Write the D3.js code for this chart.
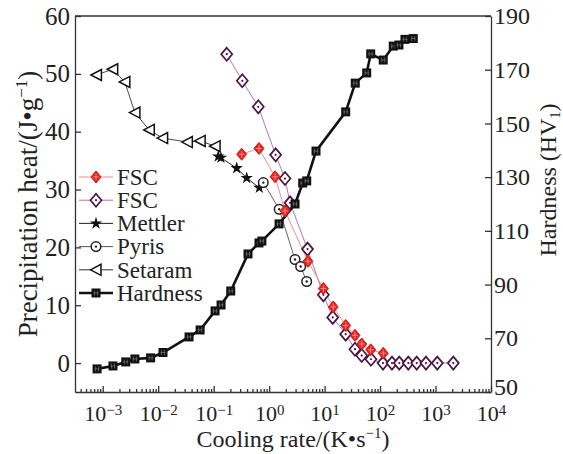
<!DOCTYPE html>
<html>
<head>
<meta charset="utf-8">
<script src="https://cdn.jsdelivr.net/npm/d3@7"></script>
<style>
  body { margin: 0; background: #fff; }
  text { font-family: "Liberation Serif", "Times New Roman", serif; fill: #222; }
</style>
</head>
<body>
<div id="chart"></div>
<script>
// data (cooling rate in K/s)
const fscRedX = [0.32, 0.656, 1.28, 1.93, 5.0, 9.5, 14.3, 24, 35.3, 46.7, 67.8, 114];
const fscRedY = [36.1, 37.1, 32.2, 26.3, 17.6, 12.9, 9.7, 6.5, 4.8, 3.3, 2.3, 1.7];

const fscPurpleX = [0.172, 0.328, 0.637, 1.31, 1.93, 2.38, 4.92, 9.5, 14, 24, 35.3, 46.7, 68.6, 113, 164, 222, 323, 457, 673, 1075, 2090];
const fscPurpleY = [53.4, 48.8, 44.3, 36.0, 31.9, 27.7, 19.7, 11.8, 7.9, 5.0, 2.4, 1.3, 0.66, 0, 0, 0, 0, 0, 0, 0, 0];

const mettlerX = [0.121, 0.135, 0.26, 0.394, 0.665];
const mettlerY = [35.7, 35.5, 33.7, 32.0, 30.3];

const pyrisX = [0.785, 1.52, 2.93, 3.7, 4.75];
const pyrisY = [31.2, 26.6, 17.9, 16.7, 14.1];

const setaramX = [7.7e-4, 1.51e-3, 2.5e-3, 3.8e-3, 6.9e-3, 0.012, 0.0335, 0.057, 0.106];
const setaramY = [49.8, 50.8, 48.6, 43.3, 40.3, 38.9, 38.2, 38.4, 37.5];

const hardnessX = [7.9e-4, 1.53e-3, 2.6e-3, 3.8e-3, 7.3e-3, 0.0122, 0.036, 0.057, 0.106, 0.136, 0.203, 0.416, 0.656, 0.74, 1.51, 2.93, 4.03, 4.76, 7.0, 24, 35.7, 57.4, 67.8, 114, 173, 219, 281, 397];
const hardnessY = [58.6, 59.7, 61.2, 62.3, 62.7, 64.7, 70.5, 73.1, 80.2, 82.4, 87.6, 101.4, 105.5, 106.2, 112.6, 120, 127.8, 128.6, 139.7, 154.3, 165, 168.8, 175.9, 173.6, 178.8, 179.2, 181.3, 181.6];

const xExponents = [-3, -2, -1, 0, 1, 2, 3, 4];
const leftTicks = [0, 10, 20, 30, 40, 50, 60];
const rightTicks = [50, 70, 90, 110, 130, 150, 170, 190];
const legendNames = ["FSC", "FSC", "Mettler", "Pyris", "Setaram", "Hardness"];

let width = 563;
let height = 454;
let margin = ({ top: 16, right: 72, bottom: 62, left: 75 });

const svg = d3.select("#chart").append("svg")
    .attr("width", width)
    .attr("height", height);

let x = d3.scaleLog()
    .domain([Math.pow(10, -3.5), 1e4])
    .range([margin.left, width - margin.right]);
let yL = d3.scaleLinear()
    .domain([-5, 60])
    .range([height - margin.bottom, margin.top]);
let yR = d3.scaleLinear()
    .domain([50, 190])
    .range([height - margin.bottom, margin.top]);

const axisColor = "#333";

// minor x ticks
let minors = [];
for (let e = -4; e < 4; e++) {
    for (let m = 2; m <= 9; m++) {
        let v = m * Math.pow(10, e);
        if (v >= x.domain()[0] && v <= x.domain()[1]) minors.push(v);
    }
}

const gx = svg.append("g")
    .attr("transform", `translate(0,${height - margin.bottom})`)
    .call(d3.axisBottom(x).tickValues(xExponents.map(e => Math.pow(10, e)))
        .tickSizeInner(-6).tickSizeOuter(0).tickFormat(() => ""));
svg.append("g")
    .attr("transform", `translate(0,${height - margin.bottom})`)
    .call(d3.axisBottom(x).tickValues(minors).tickSizeInner(-3).tickSizeOuter(0).tickFormat(() => ""))
    .call(g => g.select(".domain").remove());

gx.selectAll(".tick").each(function (d, i) {
    const t = d3.select(this).append("text")
        .attr("y", 29)
        .attr("text-anchor", "middle")
        .attr("font-size", 22)
        .attr("fill", "#222");
    t.append("tspan").text("10");
    t.append("tspan").attr("dy", -6).attr("font-size", 15)
        .text(xExponents[i] < 0 ? "\u2212" + (-xExponents[i]) : xExponents[i]);
});

svg.append("g")
    .attr("transform", `translate(${margin.left},0)`)
    .call(d3.axisLeft(yL).tickValues(leftTicks).tickSizeInner(-6).tickSizeOuter(0).tickPadding(5))
    .call(g => g.selectAll(".tick text").attr("font-size", 25).attr("fill", "#222"));

svg.append("g")
    .attr("transform", `translate(${width - margin.right},0)`)
    .call(d3.axisRight(yR).tickValues(rightTicks).tickSizeInner(-6).tickSizeOuter(0).tickPadding(3))
    .call(g => g.selectAll(".tick text").attr("font-size", 24).attr("fill", "#222"))
    .call(g => g.selectAll(".tick text").filter(d => d === 50).attr("dy", "0.1em"));

svg.selectAll(".domain, .tick line").attr("stroke", axisColor).attr("stroke-width", 1.3);

// top frame line
svg.append("line")
    .attr("x1", margin.left).attr("x2", width - margin.right)
    .attr("y1", margin.top).attr("y2", margin.top)
    .attr("stroke", axisColor).attr("stroke-width", 1.3);

// axis titles
const xt = svg.append("text")
    .attr("x", (margin.left + width - margin.right) / 2 + 10)
    .attr("y", 447)
    .attr("text-anchor", "middle")
    .attr("font-size", 24);
xt.append("tspan").text("Cooling rate/(K\u2022s");
xt.append("tspan").attr("dy", -9).attr("font-size", 15).text("\u22121");
xt.append("tspan").attr("dy", 9).text(")");

const yt = svg.append("text")
    .attr("transform", "translate(37,204) rotate(-90)")
    .attr("text-anchor", "middle")
    .attr("font-size", 27);
yt.append("tspan").text("Precipitation heat/(J\u2022g");
yt.append("tspan").attr("dy", -10).attr("font-size", 17).text("\u22121");
yt.append("tspan").attr("dy", 10).text(")");

const rt = svg.append("text")
    .attr("transform", "translate(556,180) rotate(-90)")
    .attr("text-anchor", "middle")
    .attr("font-size", 24);
rt.append("tspan").text("Hardness (HV");
rt.append("tspan").attr("dy", 4).attr("font-size", 14).text("1");
rt.append("tspan").attr("dy", -4).text(")");

// marker shapes
const shapes = {
    red: "M0,-6L5,0L0,6L-5,0Z",
    purple: "M0,-6.5L5.5,0L0,6.5L-5.5,0Z",
    tri: "M-5.5,0L5,-5.5L5,5.5Z",
    square: "M-4.5,-4.5H4.5V4.5H-4.5Z",
    star: d3.symbol(d3.symbolStar, 48)()
};

function drawMarker(g, kind) {
    if (kind === "red") {
        g.append("path").attr("d", shapes.red).attr("fill", "#e5231f").attr("stroke", "#d01a16").attr("stroke-width", 1);
        g.append("path").attr("d", "M-3,0H3M0,-3.5V3.5").attr("stroke", "#f7a0a0").attr("stroke-width", 0.8);
    } else if (kind === "purple") {
        g.append("path").attr("d", shapes.purple).attr("fill", "#fff").attr("stroke", "#4a1542").attr("stroke-width", 1.7);
        g.append("circle").attr("r", 1.1).attr("fill", "#4a1542");
    } else if (kind === "star") {
        g.append("path").attr("d", shapes.star).attr("fill", "#111");
    } else if (kind === "circle") {
        g.append("circle").attr("r", 4.8).attr("fill", "#fff").attr("stroke", "#222").attr("stroke-width", 1.5);
        g.append("circle").attr("r", 1.2).attr("fill", "#222");
    } else if (kind === "tri") {
        g.append("path").attr("d", shapes.tri).attr("fill", "#fff").attr("stroke", "#111").attr("stroke-width", 1.5);
    } else if (kind === "square") {
        g.append("path").attr("d", shapes.square).attr("fill", "#111");
        g.append("path").attr("d", "M-1.5,-2.5V2.5M1.5,-2.5V2.5M-2.5,0H2.5").attr("stroke", "#888").attr("stroke-width", 0.6);
    }
}

const series = [
    { xs: setaramX, ys: setaramY, y: yL, kind: "tri", line: "#333", lw: 0.9 },
    { xs: mettlerX, ys: mettlerY, y: yL, kind: "star", line: "#222", lw: 1 },
    { xs: pyrisX, ys: pyrisY, y: yL, kind: "circle", line: "#555", lw: 0.9 },
    { xs: fscPurpleX, ys: fscPurpleY, y: yL, kind: "purple", line: "#b27aa6", lw: 1 },
    { xs: fscRedX, ys: fscRedY, y: yL, kind: "red", line: "#ee8f8f", lw: 1 },
    { xs: hardnessX, ys: hardnessY, y: yR, kind: "square", line: "#111", lw: 2.6 }
];

series.forEach(s => {
    const pts = s.xs.map((v, i) => [v, s.ys[i]]);
    svg.append("path")
        .datum(pts)
        .attr("fill", "none")
        .attr("stroke", s.line)
        .attr("stroke-width", s.lw)
        .attr("d", d3.line().x(d => x(d[0])).y(d => s.y(d[1])));
});
series.forEach(s => {
    s.xs.forEach((v, i) => {
        const g = svg.append("g").attr("transform", `translate(${x(v)},${s.y(s.ys[i])})`);
        drawMarker(g, s.kind);
    });
});

// legend
const legendOrder = ["red", "purple", "star", "circle", "tri", "square"];
const legendLines = ["#ee8f8f", "#b27aa6", "#222", "#555", "#333", "#111"];
legendNames.forEach((name, i) => {
    const yy = 177 + i * 23.2;
    svg.append("line")
        .attr("x1", 79).attr("x2", 113).attr("y1", yy).attr("y2", yy)
        .attr("stroke", legendLines[i]).attr("stroke-width", i === 5 ? 2.6 : 1);
    drawMarker(svg.append("g").attr("transform", `translate(96,${yy})`), legendOrder[i]);
    svg.append("text")
        .attr("x", 117).attr("y", yy)
        .attr("dy", "0.34em")
        .attr("font-size", 23)
        .text(name);
});
</script>
</body>
</html>
